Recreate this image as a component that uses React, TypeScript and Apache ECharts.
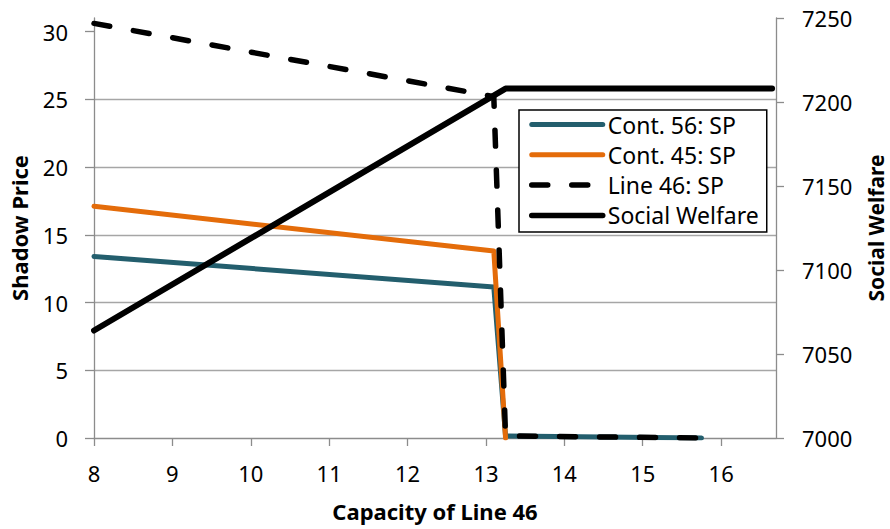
import React, { useEffect, useRef } from "react";
import * as echarts from "echarts";

// Categories / ticks
const xTicks = [8, 9, 10, 11, 12, 13, 14, 15, 16];
const leftTicks = [0, 5, 10, 15, 20, 25, 30];
const rightTicks = [7000, 7050, 7100, 7150, 7200, 7250];

// Series values (x = capacity of line 46)
const cont56X = [8, 13.1, 13.25, 15.75];
const cont56Y = [13.4, 11.15, 0.15, 0];
const cont45X = [8, 13.1, 13.25];
const cont45Y = [17.1, 13.8, 0];
const line46X = [8, 13.1, 13.25, 15.75];
const line46Y = [30.6, 25.2, 0.15, 0];
const welfareX = [8, 13.25, 16.65];
const welfareY = [7064, 7208, 7208];

const pairs = (xs: number[], ys: number[]) => xs.map((x, i) => [x, ys[i]]);

const FONT = "'Noto Sans', sans-serif";
const TEAL = "#235e6d";
const ORANGE = "#e46c0a";

export default function App() {
  const ref = useRef<HTMLDivElement>(null);
  useEffect(() => {
    const chart = echarts.init(ref.current!, null, { renderer: "svg" });
    chart.setOption({
      animation: false,
      backgroundColor: "#ffffff",
      textStyle: { fontFamily: FONT },
      grid: { left: 94, right: 114, top: 18, bottom: 91, containLabel: false, outerBoundsMode: "none" },
      legend: {
        orient: "vertical",
        left: 519,
        top: 110,
        backgroundColor: "#ffffff",
        borderColor: "#000000",
        borderWidth: 1.5,
        borderRadius: 0,
        padding: [3, 8, 5, 10],
        itemWidth: 71,
        itemHeight: 14,
        itemGap: 7.3,
        itemStyle: { opacity: 0 },
        textStyle: { fontFamily: FONT, fontSize: 23, color: "#000", lineHeight: 22 },
        data: [
          { name: "Cont. 56: SP", lineStyle: { width: 5, color: TEAL, cap: "round" } },
          { name: "Cont. 45: SP", lineStyle: { width: 5, color: ORANGE, cap: "round" } },
          { name: "Line 46: SP", lineStyle: { width: 5.5, color: "#000", type: [16, 24], cap: "round" } },
          { name: "Social Welfare", lineStyle: { width: 5.5, color: "#000", cap: "round" } },
        ],
      },
      xAxis: {
        type: "value",
        min: 8,
        max: 16.7,
        interval: 1,
        name: "Capacity of Line 46",
        nameLocation: "middle",
        nameGap: 62,
        nameTextStyle: { fontFamily: FONT, fontSize: 22, fontWeight: "bold", color: "#000" },
        axisLine: { lineStyle: { color: "#8c8c8c", width: 1.3 } },
        axisTick: { show: true, length: 8, lineStyle: { color: "#8c8c8c", width: 1.3 }, customValues: xTicks },
        axisLabel: { customValues: xTicks, margin: 24, fontSize: 22, color: "#000", fontFamily: FONT },
        splitLine: { show: false },
      },
      yAxis: [
        {
          type: "value",
          min: 0,
          max: 31,
          interval: 5,
          name: "Shadow Price",
          nameLocation: "middle",
          nameRotate: 90,
          nameGap: 64,
          nameTextStyle: { fontFamily: FONT, fontSize: 22, fontWeight: "bold", color: "#000" },
          axisLine: { show: true, lineStyle: { color: "#8c8c8c", width: 1.3 } },
          axisTick: { show: true, length: 9, lineStyle: { color: "#8c8c8c", width: 1.3 }, customValues: leftTicks },
          axisLabel: { customValues: leftTicks, margin: 26, fontSize: 22, color: "#000", fontFamily: FONT },
          splitLine: { show: true, showMinLine: false, showMaxLine: false, lineStyle: { color: "#a6a6a6", width: 1.3 } },
        },
        {
          type: "value",
          min: 7000,
          max: 7250,
          interval: 50,
          position: "right",
          name: "Social Welfare",
          nameLocation: "middle",
          nameRotate: 90,
          nameGap: 89,
          nameTextStyle: { fontFamily: FONT, fontSize: 21, fontWeight: "bold", color: "#000" },
          axisLine: { show: true, lineStyle: { color: "#8c8c8c", width: 1.3 } },
          axisTick: { show: true, length: 8, lineStyle: { color: "#8c8c8c", width: 1.3 }, customValues: rightTicks },
          axisLabel: {
            customValues: rightTicks,
            margin: 26,
            fontSize: 22,
            color: "#000",
            fontFamily: FONT,
            formatter: (v: number) => String(v),
          },
          splitLine: { show: false },
        },
      ],
      series: [
        {
          name: "Cont. 56: SP",
          type: "line",
          yAxisIndex: 0,
          symbol: "none",
          data: pairs(cont56X, cont56Y),
          itemStyle: { color: TEAL },
          lineStyle: { color: TEAL, width: 5, cap: "round", join: "round" },
          z: 2,
        },
        {
          name: "Cont. 45: SP",
          type: "line",
          yAxisIndex: 0,
          symbol: "none",
          data: pairs(cont45X, cont45Y),
          itemStyle: { color: ORANGE },
          lineStyle: { color: ORANGE, width: 5, cap: "round", join: "round" },
          z: 3,
        },
        {
          name: "Line 46: SP",
          type: "line",
          yAxisIndex: 0,
          symbol: "none",
          data: pairs(line46X, line46Y),
          itemStyle: { color: "#000000" },
          lineStyle: { color: "#000000", width: 5.5, type: [16, 24], cap: "round", join: "round" },
          z: 4,
        },
        {
          name: "Social Welfare",
          type: "line",
          yAxisIndex: 1,
          symbol: "none",
          data: pairs(welfareX, welfareY),
          itemStyle: { color: "#000000" },
          lineStyle: { color: "#000000", width: 6, cap: "round", join: "round" },
          z: 5,
        },
      ],
    });
    return () => chart.dispose();
  }, []);
  return (
    <div
      ref={ref}
      style={{ position: "fixed", left: 0, top: 0, width: 890, height: 529, background: "#fff" }}
    />
  );
}
